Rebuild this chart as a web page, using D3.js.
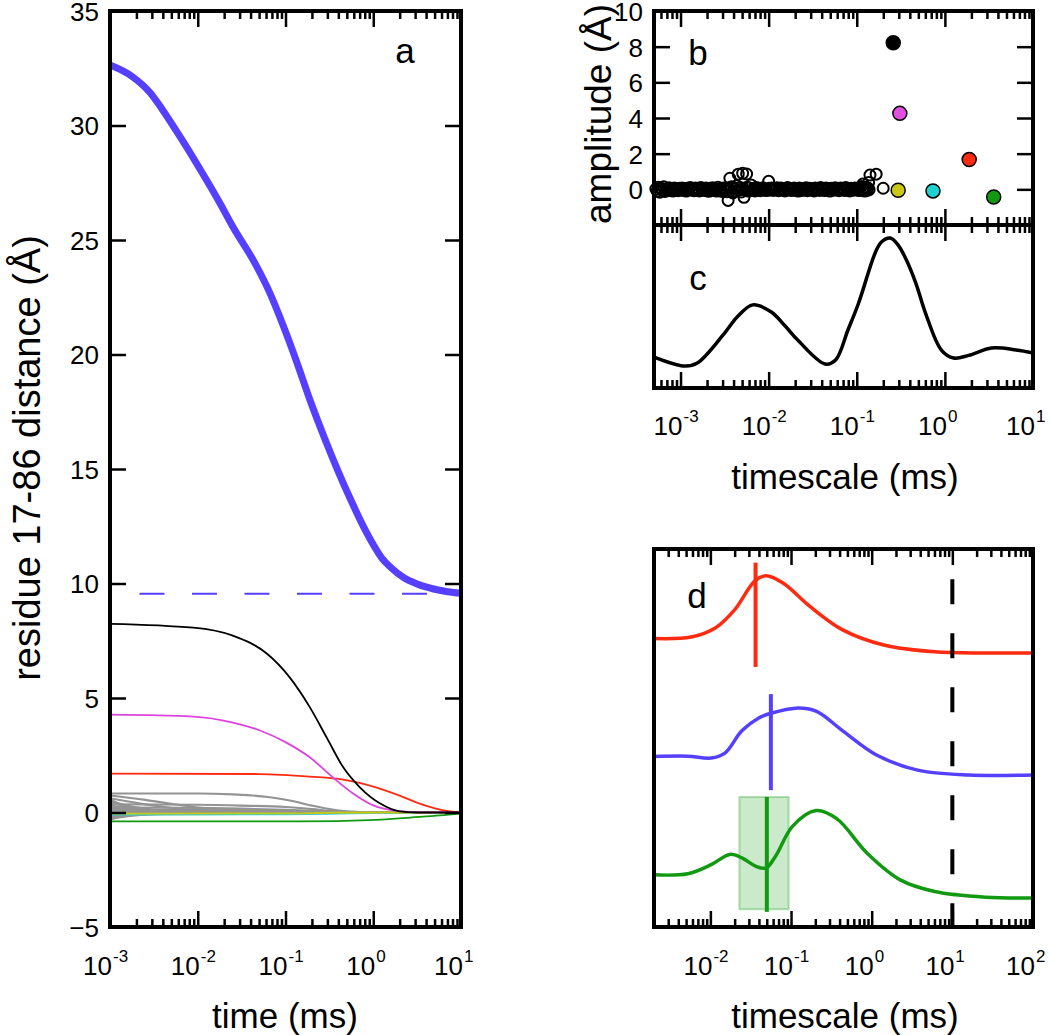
<!DOCTYPE html>
<html>
<head>
<meta charset="utf-8">
<script src="https://cdn.jsdelivr.net/npm/d3@7"></script>
<style>
body { margin: 0; background: #fff; }
svg { font-family: "Liberation Sans", Arial, sans-serif; }
</style>
</head>
<body>
<svg></svg>
<script>
// ---- data (times as log10 of ms) ----
// panel a: blue total distance and per-mode curves
const blueTotal = [[-3,32.64],[-2.74,32.12],[-2.54,31.42],[-2.40,30.68],[-2.20,29.5],[-1.97,28.07],[-1.75,26.63],[-1.60,25.58],[-1.35,24.0],[-1.18,22.7],[-1.01,21.1],[-0.87,19.65],[-0.72,18.0],[-0.55,16.3],[-0.40,14.9],[-0.25,13.6],[-0.12,12.55],[0.0,11.7],[0.1,11.1],[0.2,10.7],[0.35,10.25],[0.5,9.98],[0.7,9.75],[0.85,9.64],[1.0,9.57]]
const plateau = 9.55
const blackMode = [[-3,8.24],[-2.05,8.07],[-1.6,7.72],[-1.21,6.93],[-0.95,5.89],[-0.72,4.58],[-0.53,3.27],[-0.34,1.96],[-0.15,1.09],[0.08,0.39],[0.30,0.05],[0.5,0],[1,0]]
const magentaMode = [[-3,4.27],[-2.05,4.19],[-1.6,3.93],[-1.29,3.58],[-0.99,3.05],[-0.72,2.4],[-0.46,1.53],[-0.23,0.83],[0,0.31],[0.23,0.09],[0.5,0.01],[1,0]]
const redMode = [[-3,1.70],[-1.29,1.68],[-0.72,1.57],[-0.34,1.44],[0.04,1.09],[0.30,0.74],[0.53,0.39],[0.76,0.13],[1.0,0]]
const greenMode = [[-3,-0.39],[-0.86,-0.39],[0.04,-0.32],[0.42,-0.22],[0.76,-0.13],[1.0,-0.04]]
const cyanMode = [[-3,-0.09],[-1,-0.08],[-0.5,-0.06],[0,-0.025],[0.5,-0.003],[1,0]]
const yellowMode = [[-3,-0.05],[-1,-0.04],[-0.5,-0.01],[0,0],[1,0]]
const greyModes = [
	[[-3,0.83],[-2,0.83],[-1.6,0.79],[-1.2,0.68],[-0.95,0.52],[-0.7,0.3],[-0.5,0.15],[-0.3,0.05],[0,0],[1,0]],
	[[-3,0.74],[-2.6,0.55],[-2.3,0.38],[-2,0.22],[-1.7,0.12],[-1.3,0.04],[-1,0],[1,0]],
	[[-3,0.62],[-2.7,0.42],[-2.4,0.25],[-2.1,0.12],[-1.8,0.05],[-1.4,0],[1,0]],
	[[-3,0.58],[-2.9,0.38],[-2.75,0.18],[-2.6,0.07],[-2.4,0.01],[-2.2,0],[1,0]],
	[[-3,0.5],[-2.8,0.3],[-2.5,0.12],[-2.2,0.04],[-1.9,0],[1,0]],
	[[-3,0.45],[-2.85,0.28],[-2.65,0.12],[-2.45,0.04],[-2.2,0],[1,0]],
	[[-3,0.36],[-2,0.34],[-1.5,0.3],[-1,0.24],[-0.7,0.15],[-0.45,0.06],[-0.2,0.01],[1,0]],
	[[-3,0.3],[-2.7,0.14],[-2.4,0.05],[-2.1,0],[1,0]],
	[[-3,0.26],[-2.75,0.12],[-2.5,0.05],[-2.2,0.01],[-2,0],[1,0]],
	[[-3,0.22],[-2,0.2],[-1.5,0.17],[-1,0.12],[-0.6,0.06],[-0.3,0.02],[0,0],[1,0]],
	[[-3,0.18],[-2.8,0.08],[-2.6,0.02],[-2.4,0],[1,0]],
	[[-3,0.15],[-2.5,0.1],[-2.0,0.06],[-1.5,0.03],[-1.1,0.01],[-0.8,0],[1,0]],
	[[-3,0.12],[-2,0.11],[-1,0.08],[-0.5,0.03],[0,0],[1,0]],
	[[-3,0.1],[-2.6,0.06],[-2.2,0.03],[-1.8,0.01],[-1.5,0],[1,0]],
	[[-3,0.08],[-1.5,0.07],[-0.8,0.04],[-0.4,0.01],[0,0],[1,0]],
	[[-3,0.05],[-1,0.04],[-0.5,0.02],[0,0],[1,0]],
	[[-3,0.03],[-1.5,0.03],[-0.7,0.015],[-0.3,0],[1,0]],
	[[-3,-0.03],[-1.2,-0.03],[-0.6,-0.01],[-0.2,0],[1,0]],
	[[-3,-0.05],[-2,-0.04],[-1,-0.02],[-0.5,0],[1,0]],
	[[-3,-0.08],[-1.5,-0.06],[-1,-0.03],[-0.5,0],[1,0]],
	[[-3,-0.12],[-2.8,-0.07],[-2.5,-0.02],[-2.2,0],[1,0]],
	[[-3,-0.15],[-2.6,-0.09],[-2.2,-0.04],[-1.8,-0.01],[-1.5,0],[1,0]],
	[[-3,-0.2],[-2.7,-0.09],[-2.4,-0.03],[-2,0],[1,0]],
	[[-3,-0.24],[-2.9,-0.15],[-2.7,-0.06],[-2.5,-0.02],[-2.3,0],[1,0]],
	[[-3,-0.28],[-2.8,-0.16],[-2.5,-0.06],[-2.2,-0.01],[-1.9,0],[1,0]],
	[[-3,-0.32],[-2.9,-0.2],[-2.75,-0.1],[-2.55,-0.03],[-2.3,0],[1,0]]
]

// panel b: fitted amplitudes
const dotLogT = [-0.586, -0.511, -0.53, -0.135, 0.276, 0.554]
const dotAmp = [8.22, 4.26, -0.05, -0.09, 1.67, -0.43]
const dotColors = ["#000000", "#e050e0", "#c8c814", "#20d0d0", "#ff2a10", "#119a11"]
const openDots = [
	[-3.28,0.02],[-3.265,-0.1],[-3.25,0.12],[-3.235,-0.16],[-3.22,0.06],[-3.205,-0.05],[-3.19,0.14],[-3.175,-0.12],[-3.16,0.03],[-3.145,-0.07],[-3.13,0.09],[-3.115,-0.03],[-3.1,0.05],[-3.085,-0.1],[-3.07,0.07],[-3.055,-0.04],[-3.04,0.02],[-3.025,-0.08],[-3.01,0.06],
	[-2.995,-0.02],[-2.98,0.08],[-2.965,-0.06],[-2.95,0.03],[-2.935,-0.1],[-2.92,0.06],[-2.905,-0.01],[-2.89,0.1],[-2.875,-0.05],[-2.86,0.02],[-2.845,-0.08],[-2.83,0.07],[-2.815,-0.03],[-2.8,0.04],[-2.785,-0.09],[-2.77,0.1],[-2.755,-0.02],[-2.74,0.05],[-2.725,-0.07],[-2.71,0.08],[-2.695,0.0],[-2.68,-0.11],[-2.665,0.06],[-2.65,-0.04],[-2.635,0.09],[-2.62,-0.06],[-2.605,0.02],[-2.59,-0.1],[-2.575,0.11],[-2.56,-0.03],[-2.545,0.05],[-2.53,-0.12],[-2.515,0.08],[-2.5,-0.05],
	[-2.485,0.03],[-2.47,-0.13],[-2.46,-0.62],[-2.455,0.09],[-2.44,0.62],[-2.435,-0.06],[-2.42,0.14],[-2.405,-0.2],[-2.39,0.05],[-2.375,-0.1],[-2.36,0.2],[-2.345,0.85],[-2.34,-0.04],[-2.325,0.1],[-2.31,-0.15],[-2.295,0.9],[-2.29,0.06],[-2.28,-0.45],[-2.265,-0.05],[-2.25,0.86],[-2.245,0.12],[-2.23,-0.1],[-2.215,0.07],[-2.2,0.25],[-2.185,-0.06],[-2.17,0.04],[-2.155,-0.09],[-2.14,0.1],[-2.125,-0.02],[-2.11,0.06],[-2.095,-0.08],[-2.08,0.03],[-2.065,0.09],[-2.05,-0.05],[-2.035,0.02],[-2.02,-0.07],[-2.0,0.45],[-1.995,0.06],[-1.98,-0.03],[-1.965,0.08],
	[-1.95,-0.06],[-1.935,0.05],[-1.92,-0.01],[-1.905,0.09],[-1.89,-0.08],[-1.875,0.03],[-1.86,0.07],[-1.845,-0.04],[-1.83,0.01],[-1.815,-0.09],[-1.8,0.06],[-1.785,0.1],[-1.77,-0.03],[-1.755,0.04],[-1.74,-0.07],[-1.725,0.02],[-1.71,0.08],[-1.695,-0.05],[-1.68,0.0],[-1.665,-0.1],[-1.65,0.07],[-1.635,0.03],[-1.62,-0.06],[-1.605,0.05],[-1.59,-0.02],[-1.575,0.09],[-1.56,-0.08],[-1.545,0.01],[-1.53,0.06],[-1.515,-0.04],[-1.5,0.03],[-1.485,-0.09],[-1.47,0.08],[-1.455,-0.01],[-1.44,0.05],[-1.425,-0.06],[-1.41,0.1],[-1.395,-0.03],[-1.38,0.02],[-1.365,-0.07],[-1.35,0.07],[-1.335,-0.02],[-1.32,0.04],[-1.305,-0.1],[-1.29,0.06],[-1.275,0.0],[-1.26,-0.05],[-1.245,0.09],[-1.23,-0.03],[-1.215,0.03],[-1.2,-0.08],[-1.185,0.07],[-1.17,-0.01],[-1.155,0.05],[-1.14,-0.06],[-1.125,0.1],[-1.11,-0.04],[-1.095,0.02],[-1.08,-0.09],[-1.065,0.06],[-1.05,0.01],[-1.035,-0.05],[-1.02,0.08],[-1.005,-0.02],
	[-0.99,0.04],[-0.975,-0.07],[-0.96,0.1],[-0.95,0.16],[-0.94,-0.03],[-0.93,0.3],[-0.925,0.06],[-0.91,-0.1],[-0.9,0.12],[-0.895,0.02],[-0.885,-0.06],[-0.875,0.08],[-0.865,0.38],[-0.86,-0.02],[-0.85,0.8],[-0.78,0.85],[-0.7,0.06]
]

// panel c: timescale spectrum
const spectrum = [[-3.30,0.19],[-2.95,0.135],[-2.81,0.153],[-2.50,0.337],[-2.35,0.44],[-2.18,0.51],[-1.97,0.466],[-1.82,0.385],[-1.67,0.294],[-1.36,0.147],[-1.24,0.172],[-1.10,0.356],[-0.98,0.52],[-0.79,0.83],[-0.72,0.896],[-0.62,0.92],[-0.53,0.877],[-0.45,0.80],[-0.33,0.644],[-0.22,0.46],[-0.04,0.233],[0.10,0.184],[0.27,0.2],[0.53,0.245],[0.81,0.233],[1.0,0.215]]

// panel d: three spectra, stacked
const dRed = [[-2.70,0.763],[-2.24,0.767],[-1.94,0.791],[-1.70,0.839],[-1.45,0.915],[-1.31,0.929],[-1.10,0.910],[-0.77,0.849],[-0.36,0.786],[0.15,0.746],[0.78,0.728],[1.41,0.725],[2.0,0.725]]
const dBlue = [[-2.70,0.451],[-2.28,0.452],[-1.99,0.447],[-1.82,0.460],[-1.61,0.519],[-1.40,0.553],[-1.24,0.566],[-0.94,0.579],[-0.69,0.571],[-0.36,0.519],[0.06,0.455],[0.57,0.415],[1.20,0.402],[2.0,0.402]]
const dGreen = [[-2.70,0.138],[-2.28,0.141],[-1.99,0.165],[-1.76,0.192],[-1.61,0.183],[-1.44,0.161],[-1.31,0.156],[-1.19,0.188],[-0.98,0.267],[-0.69,0.308],[-0.43,0.286],[-0.06,0.196],[0.36,0.124],[0.78,0.094],[1.41,0.079],[2.0,0.077]]
const dMarks = [[-1.44,0.688,0.964],[-1.25,0.362,0.616],[-1.30,0.040,0.344]] // logT, low, high
const dMarkColors = ["#ff2a10", "#5540ff", "#119a11"]
const dBand = [-1.64, -1.03, 0.047, 0.344]
const dCutoff = [1, 0, 0.92]

const svg = d3.select("svg")
	.attr("width", 1050)
	.attr("height", 1035)

// scales
const xA = d3.scaleLog().domain([1e-3, 10]).range([110, 461])
const yA = d3.scaleLinear().domain([-5, 35]).range([927, 11])
const xB = d3.scaleLog().domain([5e-4, 10]).range([654, 1033])
const yB = d3.scaleLinear().domain([-2, 10]).range([225, 11])
const yC = d3.scaleLinear().domain([0, 1]).range([388, 225])
const xD = d3.scaleLog().domain([0.002, 100]).range([654, 1033])
const yD = d3.scaleLinear().domain([0, 1]).range([927, 549])

const isDecade = d => Math.abs(Math.log10(d) - Math.round(Math.log10(d))) < 1e-6

function lineFor(x, y, curve) {
	return d3.line()
		.x(d => x(Math.pow(10, d[0])))
		.y(d => y(d[1]))
		.curve(curve)
}

function clip(id, x0, y0, x1, y1) {
	svg.append("clipPath").attr("id", id)
		.append("rect").attr("x", x0).attr("y", y0).attr("width", x1 - x0).attr("height", y1 - y0)
}

// log x ticks on top and bottom edges, pointing inward
function xTicks(scale, yTop, yBot) {
	const all = scale.ticks()
	const major = all.filter(isDecade)
	const minor = all.filter(d => !isDecade(d))
	;[[d3.axisTop, yTop], [d3.axisBottom, yBot]].forEach(([axis, y]) => {
		[[minor, 8], [major, 16]].forEach(([vals, len]) => {
			svg.append("g")
				.attr("transform", `translate(0,${y})`)
				.call(axis(scale).tickValues(vals).tickSize(-len).tickFormat(""))
				.call(g => g.select(".domain").remove())
				.selectAll("line").attr("stroke-width", 2.5)
		})
	})
}

function yTicks(scale, vals, x0, x1) {
	const left = svg.append("g")
		.attr("transform", `translate(${x0},0)`)
		.call(d3.axisLeft(scale).tickValues(vals).tickSize(-16).tickPadding(11))
	left.select(".domain").remove()
	left.selectAll("line").attr("stroke-width", 2.5)
	left.selectAll("text").attr("font-size", 26).attr("dy", "0.36em")
	left.attr("font-family", null)
	svg.append("g")
		.attr("transform", `translate(${x1},0)`)
		.call(d3.axisRight(scale).tickValues(vals).tickSize(-16).tickFormat(""))
		.call(g => g.select(".domain").remove())
		.selectAll("line").attr("stroke-width", 2.5)
}

// "10" ends at the tick, exponent sits to its right
function decadeLabels(scale, y) {
	const g = svg.append("g").attr("font-size", 26)
	const decades = scale.ticks().filter(isDecade)
	g.selectAll("text.base")
		.data(decades)
		.join("text")
		.attr("class", "base")
		.attr("x", d => scale(d) + 2)
		.attr("y", y)
		.attr("text-anchor", "end")
		.text("10")
	g.selectAll("text.exp")
		.data(decades)
		.join("text")
		.attr("class", "exp")
		.attr("x", d => scale(d) + 3)
		.attr("y", y - 13)
		.attr("font-size", 17)
		.text(d => Math.round(Math.log10(d)))
}

function frame(x0, y0, x1, y1) {
	svg.append("rect")
		.attr("x", x0).attr("y", y0)
		.attr("width", x1 - x0).attr("height", y1 - y0)
		.attr("fill", "none")
		.attr("stroke", "#000")
		.attr("stroke-width", 4)
}

function label(text, x, y, size, rotate) {
	const t = svg.append("text")
		.attr("font-size", size)
		.attr("text-anchor", "middle")
		.text(text)
	if (rotate) t.attr("transform", `translate(${x},${y}) rotate(-90)`)
	else t.attr("x", x).attr("y", y)
	return t
}

// ---------- panel a ----------
clip("clipA", 110, 11, 461, 927)
const gA = svg.append("g").attr("clip-path", "url(#clipA)")
const lineA = lineFor(xA, yA, d3.curveMonotoneX)

gA.selectAll("path.grey")
	.data(greyModes)
	.join("path")
	.attr("class", "grey")
	.attr("d", lineA)
	.attr("fill", "none")
	.attr("stroke", "#939393")
	.attr("stroke-width", 2.1)

const modes = [[cyanMode, "#30d0d0"], [yellowMode, "#c8c814"], [greenMode, "#119a11"], [redMode, "#ff2a10"], [magentaMode, "#dd44dd"], [blackMode, "#000"]]
gA.selectAll("path.mode")
	.data(modes)
	.join("path")
	.attr("class", "mode")
	.attr("d", d => lineA(d[0]))
	.attr("fill", "none")
	.attr("stroke", d => d[1])
	.attr("stroke-width", 1.8)

gA.append("line")
	.attr("x1", xA(1e-3)).attr("x2", xA(10))
	.attr("y1", yA(plateau)).attr("y2", yA(plateau))
	.attr("stroke", "#5540ff")
	.attr("stroke-width", 2)
	.attr("stroke-dasharray", "25,27.5")
	.attr("stroke-dashoffset", 23)

gA.append("path")
	.datum(blueTotal)
	.attr("d", lineA)
	.attr("fill", "none")
	.attr("stroke", "#5540ff")
	.attr("stroke-width", 7)

xTicks(xA, 11, 927)
yTicks(yA, d3.range(-5, 36, 5), 110, 461)
frame(110, 11, 461, 927)
decadeLabels(xA, 975)
label("time (ms)", 285, 1028, 35)
label("residue 17-86 distance (Å)", 40, 458, 38, true)
label("a", 405, 63, 35)

// ---------- panel b ----------
svg.append("g")
	.selectAll("circle")
	.data(openDots)
	.join("circle")
	.attr("cx", d => xB(Math.pow(10, d[0])))
	.attr("cy", d => yB(d[1]))
	.attr("r", 5.5)
	.attr("fill", "none")
	.attr("stroke", "#000")
	.attr("stroke-width", 2)

svg.append("g")
	.selectAll("circle")
	.data(dotLogT)
	.join("circle")
	.attr("cx", d => xB(Math.pow(10, d)))
	.attr("cy", (d, i) => yB(dotAmp[i]))
	.attr("r", 7)
	.attr("fill", (d, i) => dotColors[i])
	.attr("stroke", "#000")
	.attr("stroke-width", 1.5)

xTicks(xB, 11, 225)
yTicks(yB, [0, 2, 4, 6, 8, 10], 654, 1033)
frame(654, 11, 1033, 225)
label("amplitude (Å)", 611, 114, 37, true)
label("b", 698, 65, 35)

// ---------- panel c ----------
svg.append("path")
	.datum(spectrum)
	.attr("d", lineFor(xB, yC, d3.curveCatmullRom.alpha(0.5)))
	.attr("fill", "none")
	.attr("stroke", "#000")
	.attr("stroke-width", 3.5)

xTicks(xB, 225, 388)
frame(654, 225, 1033, 388)
decadeLabels(xB, 435)
label("timescale (ms)", 845, 489, 35)
label("c", 698, 290, 35)

// ---------- panel d ----------
clip("clipD", 654, 549, 1033, 927)
const gD = svg.append("g").attr("clip-path", "url(#clipD)")
const lineD = lineFor(xD, yD, d3.curveCatmullRom.alpha(0.5))

gD.append("rect")
	.attr("x", xD(Math.pow(10, dBand[0])))
	.attr("width", xD(Math.pow(10, dBand[1])) - xD(Math.pow(10, dBand[0])))
	.attr("y", yD(dBand[3]))
	.attr("height", yD(dBand[2]) - yD(dBand[3]))
	.attr("fill", "rgba(17,154,17,0.22)")
	.attr("stroke", "rgba(17,154,17,0.3)")
	.attr("stroke-width", 2)

gD.selectAll("path.spec")
	.data([[dRed, "#ff2a10"], [dBlue, "#5540ff"], [dGreen, "#119a11"]])
	.join("path")
	.attr("class", "spec")
	.attr("d", d => lineD(d[0]))
	.attr("fill", "none")
	.attr("stroke", d => d[1])
	.attr("stroke-width", 3.5)

gD.selectAll("line.mark")
	.data(dMarks)
	.join("line")
	.attr("class", "mark")
	.attr("x1", d => xD(Math.pow(10, d[0])))
	.attr("x2", d => xD(Math.pow(10, d[0])))
	.attr("y1", d => yD(d[1]))
	.attr("y2", d => yD(d[2]))
	.attr("stroke", (d, i) => dMarkColors[i])
	.attr("stroke-width", 4)

gD.append("line")
	.attr("x1", xD(Math.pow(10, dCutoff[0])))
	.attr("x2", xD(Math.pow(10, dCutoff[0])))
	.attr("y1", yD(dCutoff[2]))
	.attr("y2", yD(dCutoff[1]))
	.attr("stroke", "#000")
	.attr("stroke-width", 4)
	.attr("stroke-dasharray", "25,29")

xTicks(xD, 549, 927)
frame(654, 549, 1033, 927)
decadeLabels(xD, 975)
label("timescale (ms)", 845, 1028, 35)
label("d", 697, 608, 35)
</script>
</body>
</html>
